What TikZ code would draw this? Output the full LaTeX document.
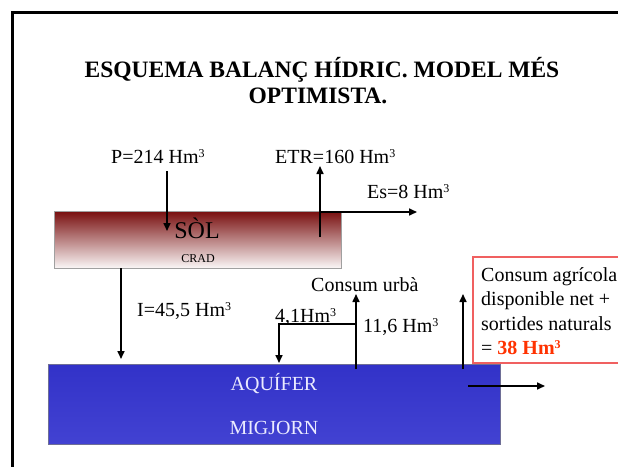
\documentclass[tikz,border=0pt]{standalone}
\usepackage{fontspec}
\setmainfont{Liberation Serif}
\usetikzlibrary{arrows.meta}
\definecolor{soildark}{RGB}{120,14,14}
\definecolor{soillight}{RGB}{250,246,246}
\definecolor{aqtop}{RGB}{50,50,200}
\definecolor{aqbot}{RGB}{66,66,210}
\definecolor{aqtext}{RGB}{235,235,255}
\definecolor{boxred}{RGB}{240,96,96}
\definecolor{valred}{RGB}{255,50,0}
\definecolor{edgegray}{RGB}{160,160,160}
\newcommand{\cubed}{\raisebox{5.5pt}{\fontsize{12}{12}\selectfont 3}}
\tikzset{
  lbl/.style={anchor=base west, inner sep=0pt, font=\fontsize{20}{24}\selectfont},
  flow/.style={line width=1.6pt, -{Triangle[length=8pt,width=7pt]}},
  titletext/.style={anchor=base, inner sep=0pt, font=\fontsize{23.5}{27}\selectfont\bfseries},
}
\begin{document}
\begin{tikzpicture}[x=1pt,y=-1pt]
\useasboundingbox (0,0) rectangle (618,466);
\fill[white] (0,0) rectangle (618,466);
% frame
\draw[line width=3pt] (12,470) -- (12,12) -- (622,12);
% title
\node[titletext] (t1) at (322,77) {ESQUEMA BALANÇ HÍDRIC. MODEL MÉS};
\node[titletext] (t2) at (318,103) {OPTIMISTA.};
% soil box
\node[draw=edgegray, line width=0.8pt, top color=soildark, bottom color=soillight, minimum width=287pt, minimum height=57pt, inner sep=0pt] (sol) at (197.5,239.5) {};
\node[anchor=base, inner sep=0pt, font=\fontsize{24}{28}\selectfont] (soltxt) at (197,238) {SÒL};
\node[anchor=base, inner sep=0pt, font=\fontsize{12}{14}\selectfont] (crad) at (198,262) {CRAD};
% aquifer box
\node[draw={rgb,255:red,110;green,110;blue,150}, line width=0.8pt, top color=aqtop, bottom color=aqbot, minimum width=452pt, minimum height=80pt, inner sep=0pt] (aq) at (274,404) {};
\node[anchor=base, inner sep=0pt, text=aqtext, font=\fontsize{20}{24}\selectfont] (aq1) at (274,390) {AQUÍFER};
\node[anchor=base, inner sep=0pt, text=aqtext, font=\fontsize{20}{24}\selectfont] (aq2) at (274,434) {MIGJORN};
% red box
\draw[boxred, line width=1.5pt] (625,257) -- (473,257) -- (473,363) -- (625,363);
% labels
\node[lbl] (P) at (111,163) {P=214 Hm\cubed};
\node[lbl] (ETR) at (275,163) {ETR=160 Hm\cubed};
\node[lbl] (Es) at (367,198) {Es=8 Hm\cubed};
\node[lbl] (I) at (137,316) {I=45,5 Hm\cubed};
\node[lbl] (q41) at (275,322) {4,1Hm\cubed};
\node[lbl] (q116) at (363,332) {11,6 Hm\cubed};
\node[lbl] (urba) at (311,291) {Consum urbà};
\node[lbl] (ag1) at (481,281) {Consum agrícola};
\node[lbl] (ag2) at (481,305) {disponible net +};
\node[lbl] (ag3) at (481,330) {sortides naturals};
\node[lbl] (ag4) at (481,354) {= \textcolor{valred}{\bfseries 38 Hm\cubed}};
% connector coordinates
\coordinate (pA) at (167,171); \coordinate (pB) at (167,231);
\coordinate (eA) at (320,237); \coordinate (eB) at (320,166);
\coordinate (sA) at (320,212); \coordinate (sB) at (417,212);
\coordinate (iA) at (121,268); \coordinate (iB) at (121,359);
\coordinate (uA) at (356,369); \coordinate (uB) at (356,294);
\coordinate (uJ) at (356,324); \coordinate (uK) at (279,324); \coordinate (uL) at (279,363);
\coordinate (gA) at (463,369); \coordinate (gB) at (463,294);
\coordinate (oA) at (468,386); \coordinate (oB) at (545,386);
% arrows
\draw[flow] (pA) -- (pB);
\draw[flow] (eA) -- (eB);
\draw[flow] (sA) -- (sB);
\draw[flow] (iA) -- (iB);
\draw[flow] (uA) -- (uB);
\draw[flow] (uJ) -- (uK) -- (uL);
\draw[flow] (gA) -- (gB);
\draw[flow] (oA) -- (oB);
\end{tikzpicture}
\end{document}
